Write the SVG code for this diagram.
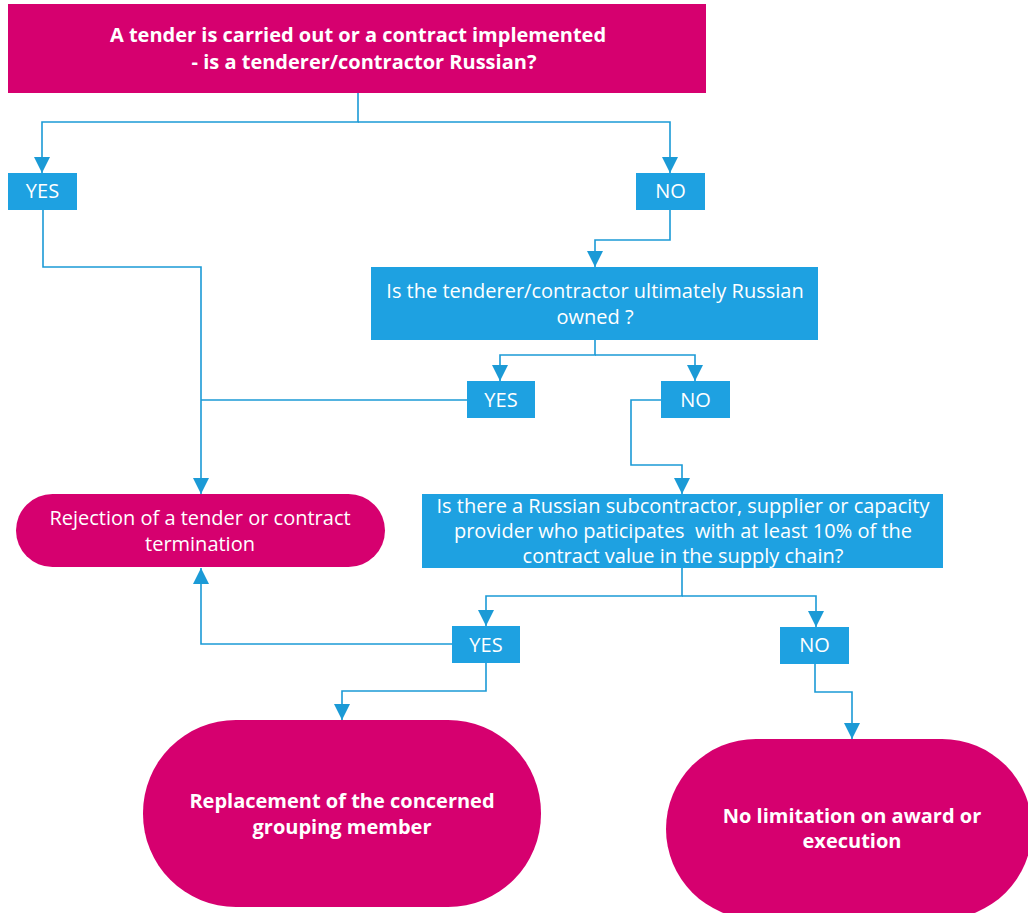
<svg xmlns="http://www.w3.org/2000/svg" width="1028" height="913" viewBox="0 0 1028 913">
<style>
.mag{fill:#D6006F}
.blu{fill:#1EA1E1}
.t{font-family:"Open Sans","Noto Sans",sans-serif;fill:#fff;text-anchor:middle;font-size:20px}
.b{font-weight:bold}
.c{fill:none;stroke:#1B9AD6;stroke-width:1.6}
</style>
<defs>
<marker id="ah" markerUnits="userSpaceOnUse" markerWidth="16" markerHeight="16" refX="14" refY="7" orient="auto" viewBox="0 0 14 14">
<path d="M0,0 L14,7 L0,14 z" fill="#1B9AD6"/>
</marker>
</defs>
<rect width="1028" height="913" fill="#fff"/>
<g id="connectors">
<path class="c" d="M358,93 V122 H42 V173" marker-end="url(#ah)"/>
<path class="c" d="M358,122 H670 V173" marker-end="url(#ah)"/>
<path class="c" d="M43,210 V267 H201 V494" marker-end="url(#ah)"/>
<path class="c" d="M467,400 H201"/>
<path class="c" d="M670,210 V240 H595 V267" marker-end="url(#ah)"/>
<path class="c" d="M595,340 V355 H500 V381" marker-end="url(#ah)"/>
<path class="c" d="M595,355 H695 V381" marker-end="url(#ah)"/>
<path class="c" d="M661,400 H631 V465 H682 V494" marker-end="url(#ah)"/>
<path class="c" d="M682,568 V596 H486 V626" marker-end="url(#ah)"/>
<path class="c" d="M682,596 H816 V627" marker-end="url(#ah)"/>
<path class="c" d="M452,644 H201 V568" marker-end="url(#ah)"/>
<path class="c" d="M486,663 V691 H342 V720" marker-end="url(#ah)"/>
<path class="c" d="M815,663 V692 H852 V739" marker-end="url(#ah)"/>
</g>
<g id="start">
<rect class="mag" x="8" y="4" width="698" height="89"/>
<text class="t b" x="358" y="42">A tender is carried out or a contract implemented</text>
<text class="t b" x="364" y="69">- is a tenderer/contractor Russian?</text>
</g>
<g id="yes1">
<rect class="blu" x="8" y="173" width="69" height="37"/>
<text class="t" x="42.5" y="198">YES</text>
</g>
<g id="no1">
<rect class="blu" x="636" y="173" width="69" height="37"/>
<text class="t" x="670.5" y="198">NO</text>
</g>
<g id="q2">
<rect class="blu" x="371" y="267" width="447" height="73"/>
<text class="t" x="595" y="298">Is the tenderer/contractor ultimately Russian</text>
<text class="t" x="595" y="324">owned ?</text>
</g>
<g id="yes2">
<rect class="blu" x="467" y="381" width="68" height="37"/>
<text class="t" x="501" y="407">YES</text>
</g>
<g id="no2">
<rect class="blu" x="661" y="381" width="69" height="37"/>
<text class="t" x="695.5" y="407">NO</text>
</g>
<g id="q3">
<rect class="blu" x="422" y="494" width="521" height="74"/>
<text class="t" x="683" y="513">Is there a Russian subcontractor, supplier or capacity</text>
<text class="t" x="683" y="538" xml:space="preserve">provider who paticipates  with at least 10% of the</text>
<text class="t" x="683" y="563">contract value in the supply chain?</text>
</g>
<g id="reject">
<rect class="mag" x="16" y="494" width="369" height="73" rx="36.5"/>
<text class="t" x="200" y="525">Rejection of a tender or contract</text>
<text class="t" x="200" y="551">termination</text>
</g>
<g id="yes3">
<rect class="blu" x="452" y="626" width="68" height="37"/>
<text class="t" x="486" y="652">YES</text>
</g>
<g id="no3">
<rect class="blu" x="780" y="627" width="69" height="37"/>
<text class="t" x="814.5" y="652">NO</text>
</g>
<g id="replace">
<rect class="mag" x="143" y="720" width="398" height="187" rx="93" ry="93"/>
<text class="t b" x="342" y="808">Replacement of the concerned</text>
<text class="t b" x="342" y="834">grouping member</text>
</g>
<g id="nolimit">
<rect class="mag" x="666" y="739" width="366" height="180" rx="90" ry="90"/>
<text class="t b" x="852" y="823">No limitation on award or</text>
<text class="t b" x="852" y="848">execution</text>
</g>
</svg>
